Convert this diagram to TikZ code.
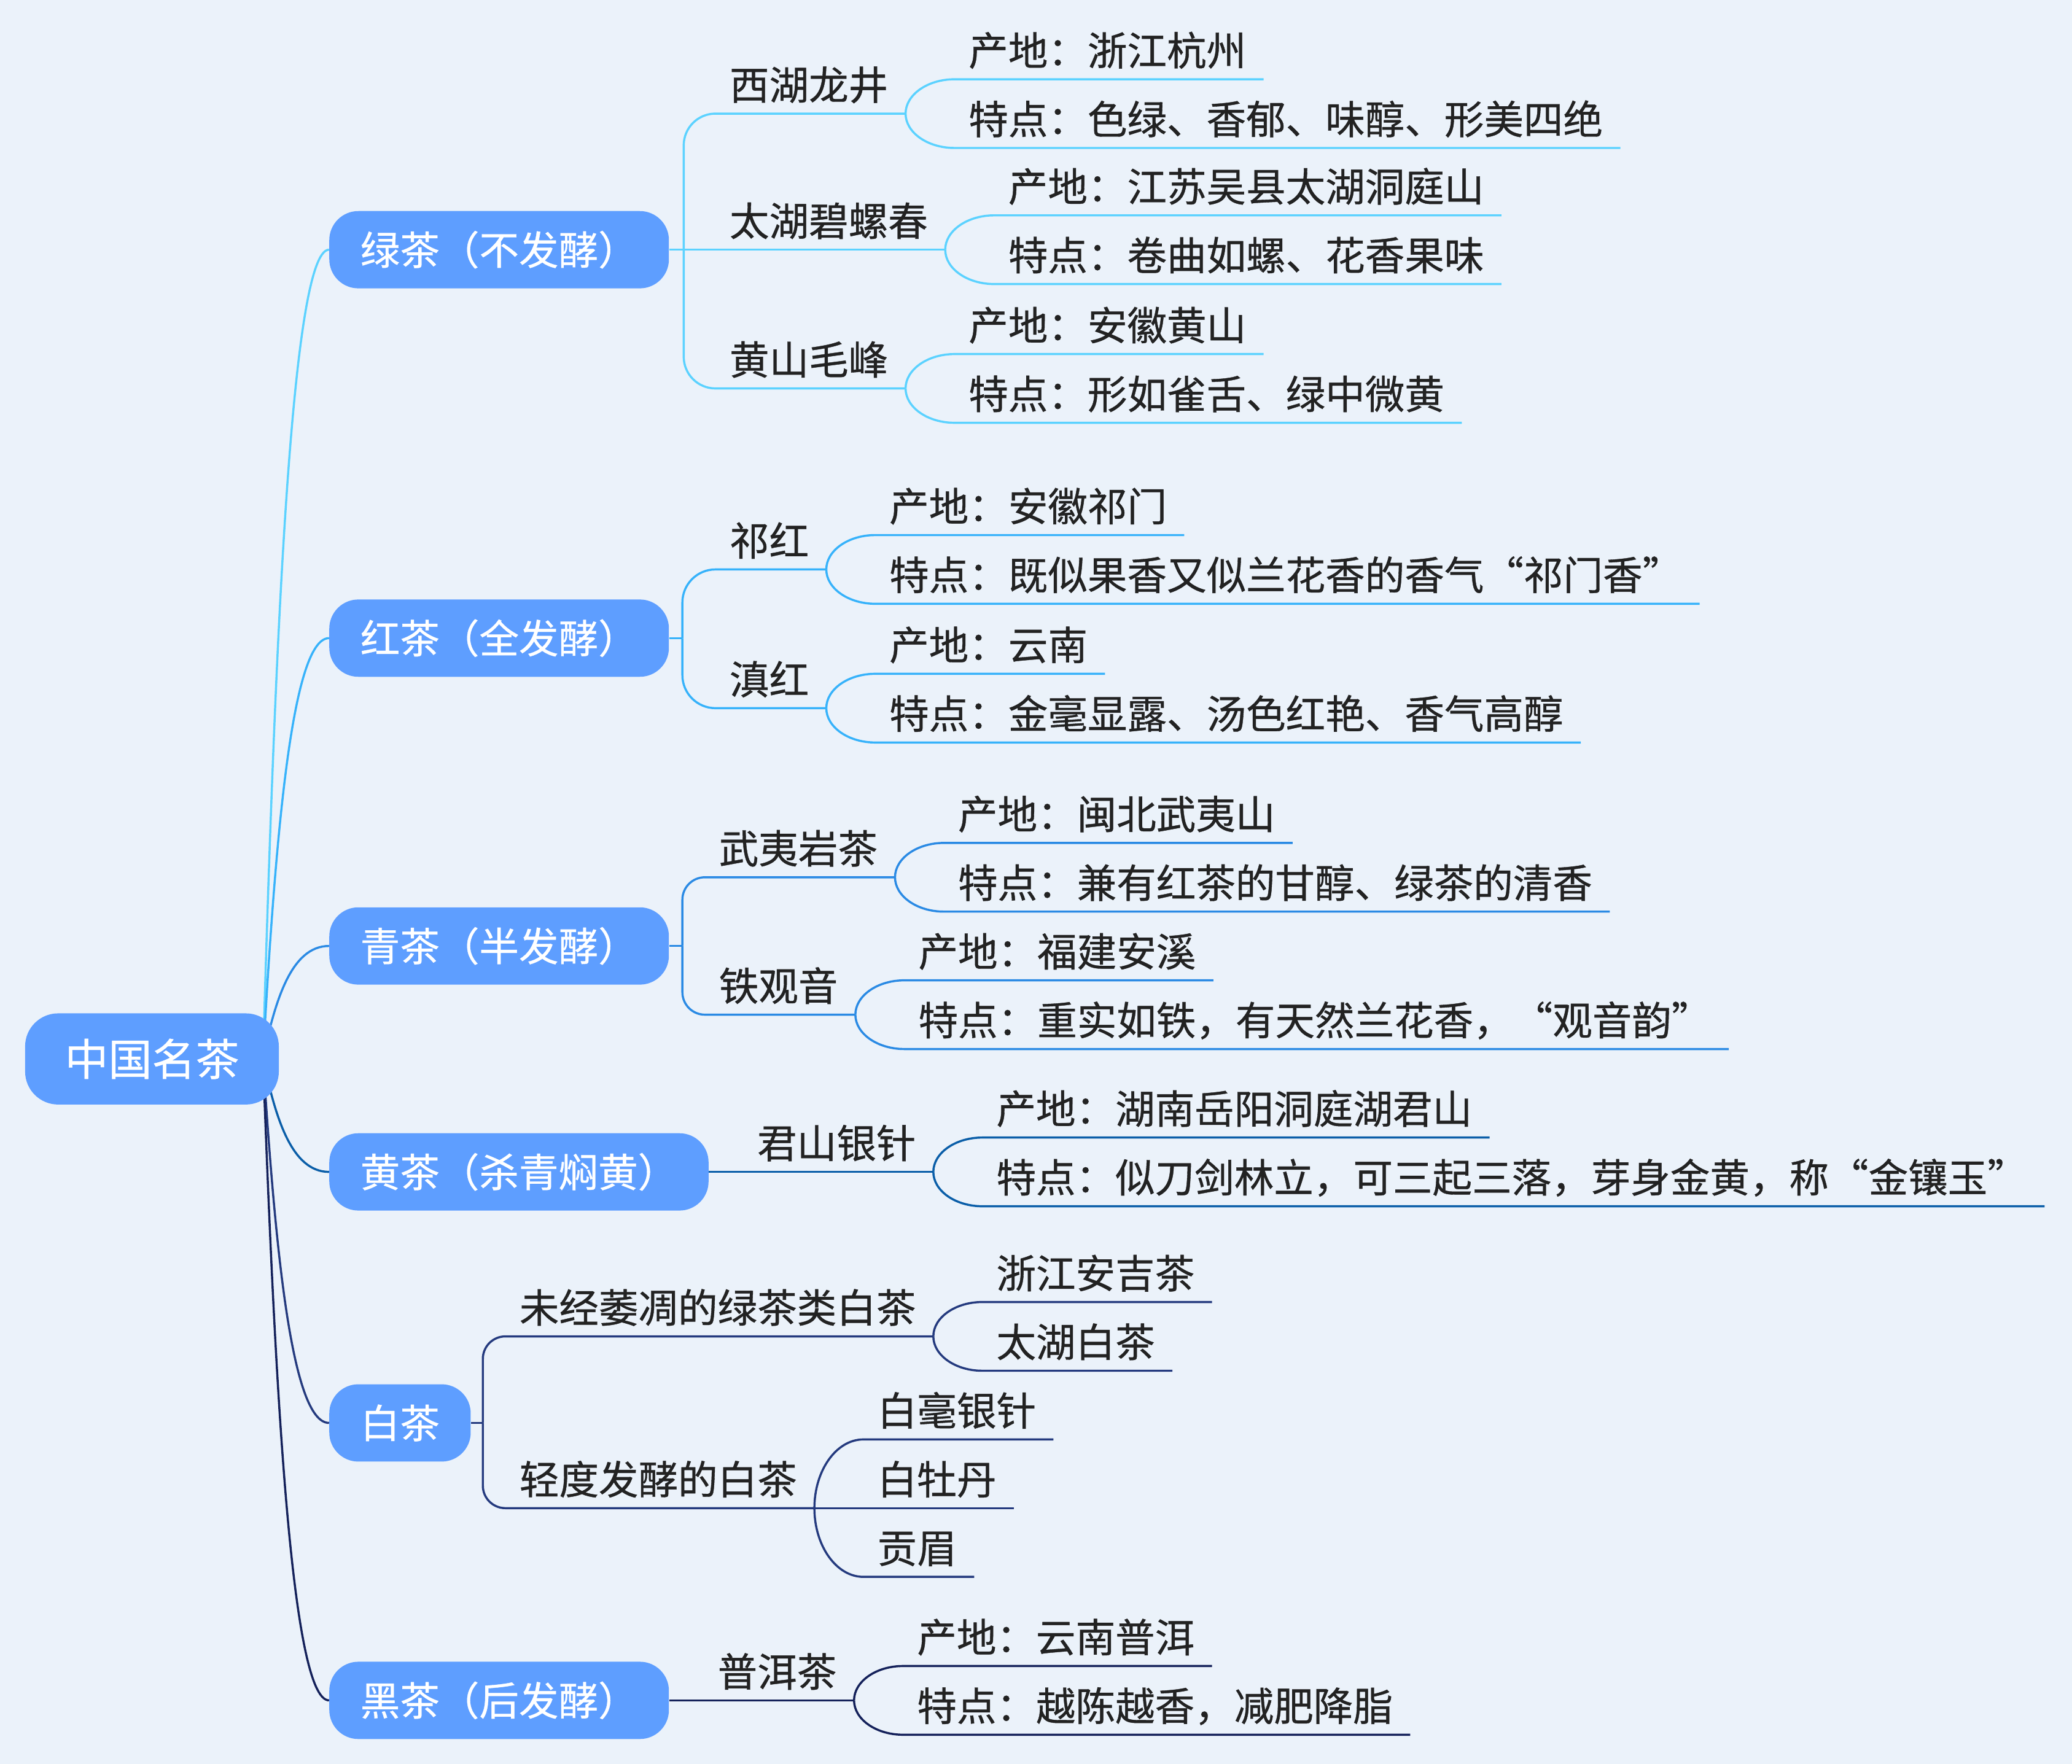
\documentclass[tikz,border=0pt]{standalone}
\usepackage{fontspec}
\setmainfont{Noto Sans CJK SC}[FakeBold=0.6]
\usetikzlibrary{calc}
\pgfdeclarelayer{bg}
\pgfsetlayers{bg,main}
\definecolor{bgc}{HTML}{EBF2FA}
\definecolor{nodefill}{HTML}{5E9EFF}
\definecolor{txt}{HTML}{222222}
\definecolor{cA}{HTML}{5BD2FF}
\definecolor{cB}{HTML}{36B2FA}
\definecolor{cC}{HTML}{2A8AE4}
\definecolor{cD}{HTML}{0A5EA8}
\definecolor{cE}{HTML}{243A7E}
\definecolor{cF}{HTML}{14215A}
\newcommand\zlq{\makebox[1em][r]{“}}
\newcommand\zrq{\makebox[1em][l]{”}}
\tikzset{
  lbl/.style={inner sep=0pt, anchor=base west, text=txt, font=\fontsize{30}{36}\selectfont},
  topicbox/.style={fill=nodefill, rounded corners=22pt, inner xsep=23.5pt, inner ysep=0pt,
    minimum height=58.5pt, text=white, font=\fontsize{30}{36}\selectfont,
    text height=26.4pt, text depth=3.6pt, anchor=west},
  rootbox/.style={fill=nodefill, rounded corners=25pt, inner xsep=30pt, inner ysep=0pt,
    minimum height=69pt, text=white, font=\fontsize{33}{40}\selectfont,
    text height=29pt, text depth=4pt},
  ln/.style={line width=1.6pt}
}
% child reached by a rounded elbow (level 2)
\newcommand\kidr[6]{%
  \coordinate (#1s) at ($(#2)+(#3,#4)$);
  \node[lbl] (#1) at ($(#1s)+(10.5,-10.5)$) {#5};
  \coordinate (#1e) at ($(#1.base east)+(13,10.5)$);
  \draw[ln,#6,rounded corners=#3pt] (#2) |- (#1e);
}
% child reached by a curve (level 3)
\newcommand\kidc[6]{%
  \coordinate (#1s) at ($(#2)+(#3,#4)$);
  \node[lbl] (#1) at ($(#1s)+(10.5,-10.5)$) {#5};
  \coordinate (#1e) at ($(#1.base east)+(13,10.5)$);
  \draw[ln,#6] (#2) .. controls +(0,{0.55*(#4)}) and +({-0.55*(#3)},0) .. (#1s) -- (#1e);
}
% child on the straight continuation
\newcommand\kids[5]{%
  \node[lbl] (#1) at ($(#2)+(#3,-10.5)$) {#4};
  \coordinate (#1e) at ($(#1.base east)+(13,10.5)$);
  \draw[ln,#5] (#2) -- (#1e);
}
\begin{document}
\begin{tikzpicture}[x=1pt,y=-1pt]
\useasboundingbox (0,0) rectangle (1568,1335);
\begin{pgfonlayer}{bg}
\fill[bgc] (0,0) rectangle (1568,1335);
\end{pgfonlayer}

\node[rootbox] (R) at (115,801.5) {中国名茶};
\coordinate (rs) at (199,801);

\node[topicbox] (A) at (249,189) {绿茶（不发酵）};
\node[topicbox] (B) at (249,483) {红茶（全发酵）};
\node[topicbox] (C) at (249,716) {青茶（半发酵）};
\node[topicbox] (D) at (249,887) {黄茶（杀青焖黄）};
\node[topicbox] (E) at (249,1077) {白茶};
\node[topicbox] (F) at (249,1287) {黑茶（后发酵）};

\begin{pgfonlayer}{bg}
\draw[ln,cA] (rs) .. controls (208,495) and (220,189) .. (A.west);
\draw[ln,cB] (rs) .. controls (208,642) and (220,483) .. (B.west);
\draw[ln,cC] (rs) .. controls (208,758.5) and (220,716) .. (C.west);
\draw[ln,cD] (rs) .. controls (208,844) and (220,887) .. (D.west);
\draw[ln,cE] (rs) .. controls (208,939) and (220,1077) .. (E.west);
\draw[ln,cF] (rs) .. controls (208,1044) and (220,1287) .. (F.west);
\end{pgfonlayer}

% green tea
\coordinate (JA) at ($(A.east)+(11,0)$);
\draw[ln,cA] (A.east) -- (JA);
\kidr{a1}{JA}{24}{-103}{西湖龙井}{cA}
\kids{a2}{JA}{34.5}{太湖碧螺春}{cA}
\kidr{a3}{JA}{24}{105}{黄山毛峰}{cA}
\kidc{a1a}{a1e}{37}{-26}{产地：浙江杭州}{cA}
\kidc{a1b}{a1e}{37}{26}{特点：色绿、香郁、味醇、形美四绝}{cA}
\kidc{a2a}{a2e}{37}{-26}{产地：江苏吴县太湖洞庭山}{cA}
\kidc{a2b}{a2e}{37}{26}{特点：卷曲如螺、花香果味}{cA}
\kidc{a3a}{a3e}{37}{-26}{产地：安徽黄山}{cA}
\kidc{a3b}{a3e}{37}{26}{特点：形如雀舌、绿中微黄}{cA}

% black (red) tea
\coordinate (JB) at ($(B.east)+(10,0)$);
\draw[ln,cB] (B.east) -- (JB);
\kidr{b1}{JB}{25}{-52}{祁红}{cB}
\kidr{b2}{JB}{25}{53}{滇红}{cB}
\kidc{b1a}{b1e}{37}{-26}{产地：安徽祁门}{cB}
\kidc{b1b}{b1e}{37}{26}{特点：既似果香又似兰花香的香气\zlq 祁门香\zrq}{cB}
\kidc{b2a}{b2e}{37}{-26}{产地：云南}{cB}
\kidc{b2b}{b2e}{37}{26}{特点：金毫显露、汤色红艳、香气高醇}{cB}

% oolong
\coordinate (JC) at ($(C.east)+(10,0)$);
\draw[ln,cC] (C.east) -- (JC);
\kidr{c1}{JC}{17}{-52}{武夷岩茶}{cC}
\kidr{c2}{JC}{17}{52}{铁观音}{cC}
\kidc{c1a}{c1e}{37}{-26}{产地：闽北武夷山}{cC}
\kidc{c1b}{c1e}{37}{26}{特点：兼有红茶的甘醇、绿茶的清香}{cC}
\kidc{c2a}{c2e}{37}{-26}{产地：福建安溪}{cC}
\kidc{c2b}{c2e}{37}{26}{特点：重实如铁，有天然兰花香，\zlq 观音韵\zrq}{cC}

% yellow tea
\kids{d1}{D.east}{36.5}{君山银针}{cD}
\kidc{d1a}{d1e}{37}{-26}{产地：湖南岳阳洞庭湖君山}{cD}
\kidc{d1b}{d1e}{37}{26}{特点：似刀剑林立，可三起三落，芽身金黄，称\zlq 金镶玉\zrq}{cD}

% white tea
\coordinate (JE) at ($(E.east)+(9,0)$);
\draw[ln,cE] (E.east) -- (JE);
\kidr{e1}{JE}{17}{-65.5}{未经萎凋的绿茶类白茶}{cE}
\kidr{e2}{JE}{17}{64.5}{轻度发酵的白茶}{cE}
\kidc{e1a}{e1e}{37}{-26}{浙江安吉茶}{cE}
\kidc{e1b}{e1e}{37}{26}{太湖白茶}{cE}
\kidc{e2a}{e2e}{37}{-52}{白毫银针}{cE}
\kids{e2b}{e2e}{47.5}{白牡丹}{cE}
\kidc{e2c}{e2e}{37}{52}{贡眉}{cE}

% dark tea
\kids{f1}{F.east}{36.5}{普洱茶}{cF}
\kidc{f1a}{f1e}{37}{-26}{产地：云南普洱}{cF}
\kidc{f1b}{f1e}{37}{26}{特点：越陈越香，减肥降脂}{cF}
\end{tikzpicture}
\end{document}
